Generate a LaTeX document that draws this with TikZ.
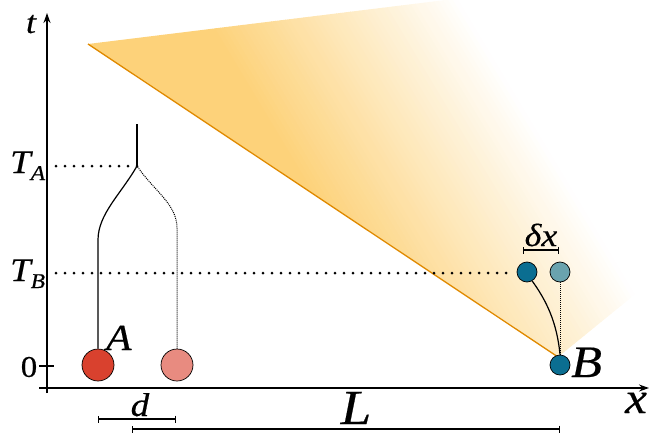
\documentclass[tikz,border=0pt]{standalone}
\usepackage{fontspec}
\setmainfont{Liberation Serif}
\newfontfamily\lblfont[FakeBold=0.4]{Liberation Serif}
\usetikzlibrary{arrows.meta}
\definecolor{redA}{HTML}{D9412E}
\definecolor{redL}{HTML}{E88B80}
\definecolor{blueB}{HTML}{0B6E91}
\definecolor{blueL}{HTML}{6AA3AE}
\definecolor{conefill}{HTML}{FDD27A}
\definecolor{coneline}{HTML}{E08A00}
\newcommand{\wideit}[2]{{\lblfont\itshape\fontsize{#1}{#1}\selectfont\scalebox{1.12}[1]{#2}}}
\begin{document}
\begin{tikzpicture}[x=1pt,y=-1pt,
  axis/.style={line width=1.4pt,-{Stealth[length=10pt,width=7pt]}},
  dotline/.style={line width=3pt,dash pattern=on 0pt off 9pt,line cap=round},
  finedot/.style={line width=1pt,dash pattern=on 1pt off 1pt},
  branch/.style={line width=1.2pt},
  ball/.style={circle,draw=black,line width=0.7pt,inner sep=0pt},
  bigball/.style={ball,minimum size=32pt},
  smallball/.style={ball,minimum size=20pt},
  bar/.style={line width=1.1pt,{Bar[width=7pt]}-{Bar[width=7pt]}},
  lbl/.style={inner sep=0pt}]
\useasboundingbox (0,0) rectangle (649,434);
% cone
\coordinate (c1) at (88,44);
\coordinate (c2) at (558,357);
\begin{scope}
\clip (c1) -- (649,-25) -- (649,283) -- (c2) -- cycle;
\fill[conefill] (-100,-30) -- (200-18,-30) -- (200+240,400) -- (-100,400) -- cycle;
\foreach \i in {0,...,52}{
  \pgfmathsetmacro{\sa}{198+\i*5}
  \pgfmathsetmacro{\sb}{\sa+5.6}
  \pgfmathtruncatemacro{\p}{100*(1-(\i+1)/53)}
  \fill[conefill!\p!white] (\sa-18,-30) -- (\sb-18,-30) -- (\sb+240,400) -- (\sa+240,400) -- cycle;
}
\end{scope}
\draw[coneline,line width=1.3pt] (c1) -- (c2);
% axes
\coordinate (tb) at (47,393);
\coordinate (tt) at (47,13);
\coordinate (xl) at (39,388);
\coordinate (xr) at (649,388);
\draw[axis] (tb) -- (tt);
\draw[axis] (xl) -- (xr);
\coordinate (k1) at (39,366);
\coordinate (k2) at (54,366);
\draw[line width=1.4pt] (k1) -- (k2);
% labels on axes
\node[lbl,anchor=base] (tl) at (31,33) {\wideit{32}{t}};
\node[lbl,anchor=base] (xlab) at (636,413) {\wideit{44}{x}};
\node[lbl] (zero) at (29,367) {{\lblfont\fontsize{30}{30}\selectfont\scalebox{1.1}[1]{0}}};
\node[lbl,anchor=base west] (TA) at (10,173) {\wideit{33}{T}\raisebox{-7pt}{\wideit{21}{A}}};
\node[lbl,anchor=base west] (TB) at (10,281) {\wideit{33}{T}\raisebox{-7pt}{\wideit{21}{B}}};
% balls
\node[bigball,fill=redA] (A) at (98,365) {};
\node[bigball,fill=redL] (A2) at (177,365) {};
\node[smallball,fill=blueB] (Bc) at (560,365) {};
\node[smallball,fill=blueB] (bd) at (527,272) {};
\node[smallball,fill=blueL] (bl) at (560,272) {};
\node[lbl,anchor=base west] (Alab) at (106,350) {\wideit{37}{A}};
\node[lbl,anchor=base west] (Blab) at (571,377) {\wideit{45}{B}};
% dotted guide lines
\coordinate (br) at (137,166);
\coordinate (top) at (137,124);
\coordinate (ga) at (56,166);
\coordinate (gb) at (56,273);
\coordinate (gbe) at (511,273);
\draw[dotline] (ga) -- (br);
\draw[dotline] (gb) -- (gbe);
% branches of A
\coordinate (a1) at (98,240);
\coordinate (a2) at (177,228);
\draw[branch] (A.north) -- (a1) .. controls (98,214) and (121,194) .. (br);
\draw[branch] (br) -- (top);
\draw[finedot] (A2.north) -- (a2) .. controls (177,204) and (154,191) .. (br);
% paths of B
\draw[branch] (Bc.north) .. controls (557,322) and (546,300) .. (bd.-60);
\draw[finedot] (Bc.north) -- (bl.south);
% bars
\coordinate (d1) at (98,419);
\coordinate (d2) at (176,419);
\draw[bar] (d1) -- (d2);
\node[lbl,anchor=base] (dlab) at (140,416) {\wideit{33}{d}};
\coordinate (L1) at (132,429);
\coordinate (L2) at (560,429);
\draw[bar] (L1) -- (L2);
\node[lbl,anchor=base] (Llab) at (356,424) {\wideit{49}{L}};
\coordinate (x1) at (523,250);
\coordinate (x2) at (559,250);
\draw[bar] (x1) -- (x2);
\node[lbl,anchor=base] (dxlab) at (541,246) {\wideit{32}{δx}};
\end{tikzpicture}
\end{document}
